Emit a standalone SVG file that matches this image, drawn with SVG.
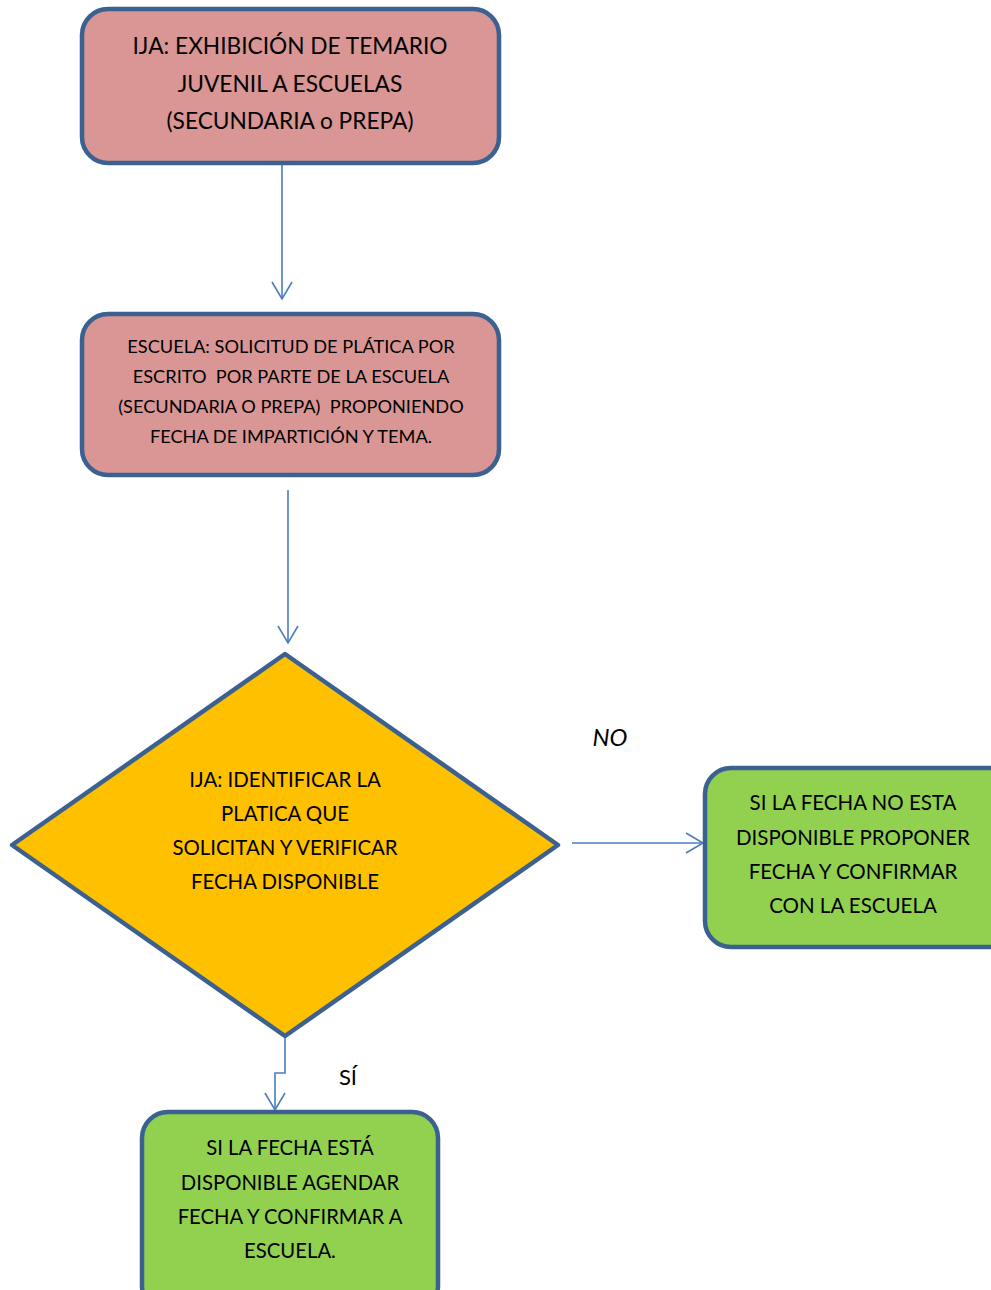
<svg xmlns="http://www.w3.org/2000/svg" width="991" height="1290" viewBox="0 0 991 1290">
<style>
.box{stroke:#3b6190;stroke-width:4.5}
.pink{fill:#d99694}
.green{fill:#92d050}
.yellow{fill:#ffc000}
.t{font-family:Lato,"Open Sans",sans-serif;fill:#000;text-anchor:middle}
.conn{fill:none;stroke:#4a7ebb;stroke-width:1.6}
</style>
<defs>
<marker id="arr" markerWidth="22" markerHeight="24" refX="18" refY="11" orient="auto" markerUnits="userSpaceOnUse">
<path d="M1,1 L18,11 L1,21" fill="none" stroke="#4a7ebb" stroke-width="1.6"/>
</marker>
</defs>
<rect width="991" height="1290" fill="#fff"/>
<g id="connectors">
<path class="conn" d="M282,164 V299" marker-end="url(#arr)"/>
<path class="conn" d="M288,490 V643" marker-end="url(#arr)"/>
<path class="conn" d="M572,843 H703" marker-end="url(#arr)"/>
<path class="conn" d="M285,1036 V1073 H275 V1110" marker-end="url(#arr)"/>
<text class="t" x="610" y="746" font-size="24" font-style="italic">NO</text>
<text class="t" x="348" y="1085" font-size="22">SÍ</text>
</g>
<g id="n1">
<rect class="box pink" x="82" y="9" width="417" height="154" rx="26"/>
<text class="t" font-size="22.7"><tspan x="290" y="54">IJA: EXHIBICIÓN DE TEMARIO</tspan><tspan x="290" y="92">JUVENIL A ESCUELAS</tspan><tspan x="290" y="129">(SECUNDARIA o PREPA)</tspan></text>
</g>
<g id="n2">
<rect class="box pink" x="82" y="314" width="417" height="161" rx="26"/>
<text class="t" font-size="18.2" xml:space="preserve"><tspan x="291" y="353">ESCUELA: SOLICITUD DE PLÁTICA POR</tspan><tspan x="291" y="383">ESCRITO  POR PARTE DE LA ESCUELA</tspan><tspan x="291" y="413">(SECUNDARIA O PREPA)  PROPONIENDO</tspan><tspan x="291" y="443">FECHA DE IMPARTICIÓN Y TEMA.</tspan></text>
</g>
<g id="n3">
<polygon class="box yellow" points="285,654 12,845 285,1036 558,845" stroke-linejoin="round"/>
<text class="t" font-size="20.4"><tspan x="285" y="787">IJA: IDENTIFICAR LA</tspan><tspan x="285" y="821">PLATICA QUE</tspan><tspan x="285" y="855">SOLICITAN Y VERIFICAR</tspan><tspan x="285" y="889">FECHA DISPONIBLE</tspan></text>
</g>
<g id="n4">
<rect class="box green" x="705" y="768" width="320" height="179" rx="26"/>
<text class="t" font-size="20.5"><tspan x="853" y="810">SI LA FECHA NO ESTA</tspan><tspan x="853" y="845">DISPONIBLE PROPONER</tspan><tspan x="853" y="879">FECHA Y CONFIRMAR</tspan><tspan x="853" y="913">CON LA ESCUELA</tspan></text>
</g>
<g id="n5">
<rect class="box green" x="142" y="1112" width="296" height="200" rx="26"/>
<text class="t" font-size="20.3"><tspan x="290" y="1155">SI LA FECHA ESTÁ</tspan><tspan x="290" y="1190">DISPONIBLE AGENDAR</tspan><tspan x="290" y="1224">FECHA Y CONFIRMAR A</tspan><tspan x="290" y="1258">ESCUELA.</tspan></text>
</g>
</svg>
